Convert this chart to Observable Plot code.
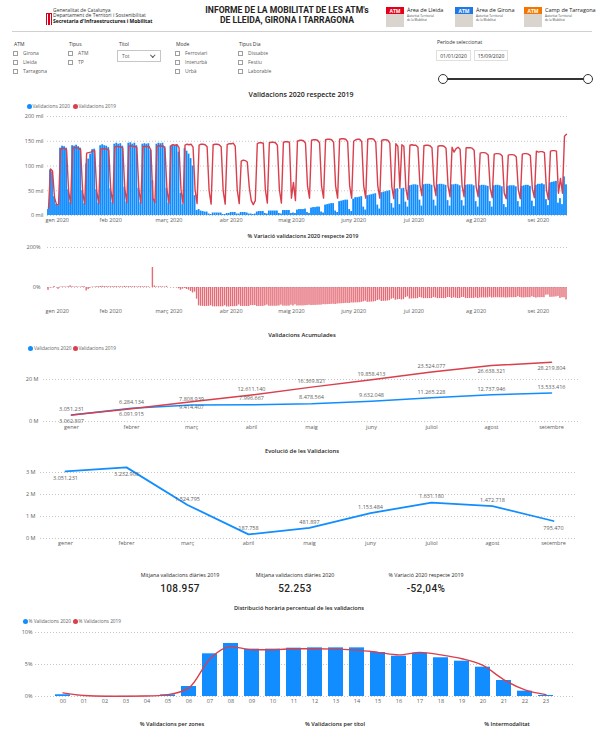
<!DOCTYPE html>
<html><head><meta charset="utf-8">
<script src="https://cdn.jsdelivr.net/npm/d3@7"></script>
<script src="https://cdn.jsdelivr.net/npm/@observablehq/plot@0.6"></script>
<style>
body{margin:0;background:#fff;font-family:'Open Sans','Noto Sans',sans-serif;color:#252423}
#page{position:relative;width:600px;height:733px;overflow:hidden;background:#fff}
.t{position:absolute;white-space:nowrap;line-height:1}
.b{position:absolute;box-sizing:border-box}
svg{position:absolute;overflow:visible}
</style></head><body><div id="page"></div>
<script>
// ---------- DATA ----------
// daily validations (thousands, "mil"), 2020 and matched 2019 days
const v2020_gen=[12,92,88,38,22,20,136,140,139,136,52,26,141,140,142,139,136,50,24,104,114,124,133,134,52,25,141,143,141,140,137];
const v2020_feb=[54,26,144,146,144,145,140,57,27,146,147,144,146,141,55,26,144,145,144,145,131,70,28,144,146,145,146,139,55];
const v2020_mar=[25,140,142,141,142,128,45,22,135,130,124,115,100,40,10,12,9,8,7,7,3,2,5,5,5,5,5,2,2,4,4];
const v2020_abr=[6,6,6,3,3,6,6,6,5,3,3,2,3,7,8,8,8,4,3,9,9,9,9,9,4,3,10,10,10,10];
const v2020_mai=[4,5,4,11,12,12,12,13,6,4,15,16,16,17,17,7,5,21,22,23,24,24,9,6,28,29,30,31,31,12,8];
const v2020_jun=[33,36,36,37,38,17,11,40,41,42,43,44,21,13,46,47,48,49,50,24,15,53,54,22,54,55,27,17,60,61];
const v2020_jul=[62,62,61,31,19,62,63,63,63,61,31,19,62,63,63,62,61,30,19,62,62,63,62,60,30,19,61,62,62,62,60];
const v2020_ago=[28,17,60,61,61,60,59,28,17,60,61,61,60,58,22,16,59,60,60,60,58,28,17,59,60,61,61,59,29,18,61];
const v2020_set=[63,63,64,62,32,20,66,67,68,69,25,34,22,78,62];

const v2019_gen=[14,94,90,36,22,22,133,136,135,133,50,24,136,137,137,136,133,48,23,126,127,128,130,131,50,24,134,135,135,134,132];
const v2019_feb=[52,25,138,140,139,139,136,54,26,140,141,139,140,137,53,25,139,140,139,140,132,35,26,140,141,140,141,136,52];
const v2019_mar=[25,141,143,142,143,137,52,24,142,144,143,144,138,52,24,142,144,144,143,139,50,23,143,144,144,143,139,50,23,143,145];
const v2019_abr=[145,146,140,52,24,110,112,111,108,57,30,22,30,145,147,147,146,52,25,147,148,148,147,142,52,25,148,149,149,148];
const v2019_mai=[35,67,30,150,152,152,151,146,60,35,152,153,153,152,147,60,35,153,154,154,153,148,60,35,154,155,155,154,149,60,35];
const v2019_jun=[150,153,154,154,149,60,35,154,155,155,154,148,60,35,152,153,153,152,146,58,34,145,140,55,143,140,55,32,142,143];
const v2019_jul=[142,142,138,62,40,141,142,142,141,137,62,40,140,141,141,140,136,60,38,138,128,135,138,134,60,38,137,137,137,136,132];
const v2019_ago=[58,38,126,127,127,126,122,55,36,124,125,125,124,120,45,34,122,123,123,122,118,52,34,124,125,125,124,121,54,36,130];
const v2019_set=[128,129,129,127,52,32,130,131,131,130,45,75,45,160,164];

const dateTickLabels=["gen 2020","feb 2020","març 2020","abr 2020","maig 2020","juny 2020","jul 2020","ag 2020","set 2020"];

const months=["gener","febrer","març","abril","maig","juny","juliol","agost","setembre"];
const monthly2020=[3051231,3232903,1524795,187758,481897,1153484,1631180,1472718,795470];
const cum2020=[3051231,6284134,7808939,7996667,8478564,9632048,11265228,12737946,13533416];
const cum2019=[3062807,6091915,9414407,12611140,16369821,19858413,23524077,26638321,28219804];

const kpiLabels=["Mitjana validacions diàries 2019","Mitjana validacions diàries 2020","% Variació 2020 respecte 2019"];
const kpiValues=["108.957","52.253","-52,04%"];

const hours=["00","01","02","03","04","05","06","07","08","09","10","11","12","13","14","15","16","17","18","19","20","21","22","23"];
const hourPct2020=[0.27,0.05,0.02,0.02,0.03,0.25,1.56,6.67,8.28,7.4,7.4,7.55,7.6,7.6,7.6,6.87,6.3,6.77,6.05,5.52,4.58,2.5,0.83,0.16];
const hourPct2019=[0.57,0.15,0.05,0.05,0.08,0.3,1.35,5.9,7.8,7.3,7.3,7.45,7.45,7.4,7.25,6.9,6.5,6.9,6.5,5.9,4.85,2.6,1.04,0.3];

// ---------- HELPERS ----------
const BLUE="#118DFF", RED="#D93F4C", PINK="#E46C77", GRAY="#605E5C", DARK="#252423";
const page=document.getElementById("page");
function T(text,x,y,o={}){
  const el=document.createElement("div");el.className="t";el.textContent=text;
  const a=o.anchor||"start";
  el.style.left=x+"px";el.style.top=y+"px";
  el.style.transform=`translate(${a==="middle"?"-50%":a==="end"?"-100%":"0"},-50%)`;
  el.style.fontSize=(o.size||5.5)+"px";el.style.fontWeight=o.weight||400;
  el.style.color=o.color||GRAY;if(o.family)el.style.fontFamily=o.family;
  if(o.ls)el.style.letterSpacing=o.ls;
  page.appendChild(el);return el;
}
function B(x,y,w,h,css){const el=document.createElement("div");el.className="b";
  Object.assign(el.style,{left:x+"px",top:y+"px",width:w+"px",height:h+"px"},css||{});page.appendChild(el);return el;}
function place(svg,x,y){svg.style.left=x+"px";svg.style.top=y+"px";page.appendChild(svg);}
function legend(x,y,items){let cx=x;items.forEach(([c,l,w])=>{B(cx-2.5,y-2.5,5,5,{background:c,borderRadius:"50%"});T(l,cx+3.5,y,{size:4.8,color:GRAY});cx+=w;});}
const fmt=d3.formatLocale({decimal:",",thousands:".",grouping:[3],currency:["","€"]}).format(",d");
const style={fontFamily:"'Open Sans','Noto Sans',sans-serif",fontSize:"5.5px",color:GRAY,background:"transparent",overflow:"visible"};
const grid={stroke:"#C8C6C4",strokeOpacity:1,strokeDasharray:"1,2"};

// ---------- HEADER ----------
for(let i=0;i<4;i++)B(46+i*1.6,13,0.9,12,{background:"#D6001C"});
B(46,13,6,1,{background:"#D6001C"});
T("Generalitat de Catalunya",53,10,{size:5,color:"#333"});
T("Departament de Territori i Sostenibilitat",53,15,{size:5,color:"#333"});
T("Secretaria d'Infraestructures i Mobilitat",53,20.5,{size:5,weight:700,color:"#111"});
T("INFORME DE LA MOBILITAT DE LES ATM's",287,10,{anchor:"middle",size:8.6,weight:700,color:DARK,family:"'Liberation Sans Narrow','Roboto',sans-serif"});
T("DE LLEIDA, GIRONA I TARRAGONA",287,19.5,{anchor:"middle",size:8.6,weight:700,color:DARK,family:"'Liberation Sans Narrow','Roboto',sans-serif"});
[[386,"#E2001A","Àrea de Lleida"],[455,"#1E78E6","Àrea de Girona"],[524,"#F07800","Camp de Tarragona"]].forEach(([x,c,l])=>{
  B(x,7,18,7,{background:c});T("ATM",x+9,10.5,{anchor:"middle",size:5,weight:700,color:"#fff"});
  B(x,14,18,13,{background:"#D9D4CE"});
  T(l,x+21,10.5,{size:5.5,color:"#222"});
  T("Autoritat Territorial",x+21,16,{size:3,color:"#444"});
  T("de la Mobilitat",x+21,19.5,{size:3,color:"#444"});
});
B(12,31,580,1,{background:"#D0D0D0"});

// Filters
function checks(x,title,items){T(title,x+1,43.5,{size:5,color:"#333"});
  items.forEach((it,i)=>{B(x,50.5+i*9,5,5,{border:"0.6px solid #A19F9D",background:"#fff"});T(it,x+10,53+i*9,{size:5,color:GRAY});});}
checks(13,"ATM",["Girona","Lleida","Tarragona"]);
checks(68,"Tipus",["ATM","TP"]);
checks(175,"Mode",["Ferroviari","Interurbà","Urbà"]);
checks(238,"Tipus Dia",["Dissabte","Festiu","Laborable"]);
T("Títol",119,43.5,{size:5,color:"#333"});
B(117,50,44,12,{border:"0.6px solid #C8C6C4"});
T("Tot",122,56,{size:5,color:GRAY});
B(151,53,3.5,3.5,{borderRight:"0.7px solid #555",borderBottom:"0.7px solid #555",transform:"rotate(45deg)"});
T("Període seleccionat",437,41.7,{size:5,color:"#333"});
B(436,50,35,11,{border:"0.6px solid #E1DFDD"});T("01/01/2020",453.5,55.5,{anchor:"middle",size:5,color:"#333"});
B(474,50,34,11,{border:"0.6px solid #E1DFDD"});T("15/09/2020",491,55.5,{anchor:"middle",size:5,color:"#333"});
B(443,78,145,2,{background:"#333"});
B(438,74,10,10,{border:"1px solid #333",background:"#fff",borderRadius:"50%"});
B(583,74,10,10,{border:"1px solid #333",background:"#fff",borderRadius:"50%"});

// ---------- CHART 1: daily ----------
const dayMs=864e5;
const days=d3.utcDay.range(new Date(Date.UTC(2020,0,1)),new Date(Date.UTC(2020,8,16)));
const val2020=[].concat(v2020_gen,v2020_feb,v2020_mar,v2020_abr,v2020_mai,v2020_jun,v2020_jul,v2020_ago,v2020_set);
const val2019=[].concat(v2019_gen,v2019_feb,v2019_mar,v2019_abr,v2019_mai,v2019_jun,v2019_jul,v2019_ago,v2019_set);
const rows=days.map((d,i)=>({date:d,x1:new Date(+d-dayMs/2),x2:new Date(+d+dayMs/2),v20:val2020[i],v19:val2019[i],pct:(val2020[i]/val2019[i]-1)*100}));
const monthStarts=d3.utcMonth.range(new Date(Date.UTC(2020,0,1)),new Date(Date.UTC(2020,8,2)));
const tickLab=new Map(monthStarts.map((d,i)=>[+d,dateTickLabels[i]]));
const xDom=[new Date(Date.UTC(2019,11,31,12)),new Date(Date.UTC(2020,8,15,12))];
function dateAxes(pad){return [
  Plot.axisX(monthStarts.slice(1),{tickSize:0,tickPadding:pad,label:null,tickFormat:d=>tickLab.get(+d)}),
  Plot.axisX(monthStarts.slice(0,1),{tickSize:0,tickPadding:pad,label:null,textAnchor:"start",dx:-3,tickFormat:d=>tickLab.get(+d)})
];}

T("Validacions 2020 respecte 2019",301,94,{anchor:"middle",size:7,weight:600,color:DARK});
legend(29,106,[[BLUE,"Validacions 2020",46],[RED,"Validacions 2019",0]]);
place(Plot.plot({width:600,height:118,marginLeft:47,marginRight:33,marginTop:6,marginBottom:13,style,
  x:{type:"utc",domain:xDom,label:null},y:{domain:[0,200],label:null},
  marks:[
    Plot.gridY([0,50,100,150,200],grid),
    Plot.axisY([0,50,100,150,200],{tickSize:0,tickPadding:4,label:null,tickFormat:d=>d+" mil"}),
    ...dateAxes(3),
    Plot.rectY(rows,{x1:"x1",x2:"x2",y:"v20",fill:BLUE,insetLeft:0.1,insetRight:0.1}),
    Plot.line(rows,{x:"date",y:"v19",stroke:RED,strokeWidth:1.4})
  ]}),0,110);

// ---------- CHART 2: % variation ----------
T("% Variació validacions 2020 respecte 2019",303,237,{anchor:"middle",size:5.5,weight:600,color:DARK});
place(Plot.plot({width:600,height:79,marginLeft:47,marginRight:33,marginTop:7,marginBottom:12,style,
  x:{type:"utc",domain:xDom,label:null},y:{domain:[-100,200],clamp:true,label:null},
  marks:[
    Plot.gridY([0,200],grid),
    Plot.axisY([0,200],{tickSize:0,tickPadding:7,label:null,tickFormat:d=>d+"%"}),
    ...dateAxes(2),
    Plot.rectY(rows,{x1:"x1",x2:"x2",y:"pct",fill:PINK,insetLeft:0.3,insetRight:0.3})
  ]}),0,240);

// ---------- CHART 3: cumulative ----------
const below3=new Set(["gener","febrer","març","agost","setembre"]);
const acc=months.map((m,i)=>({m,a20:cum2020[i]/1e6,a19:cum2019[i]/1e6,r20:cum2020[i],r19:cum2019[i]}));
T("Validacions Acumulades",302,336,{anchor:"middle",size:5.8,weight:600,color:DARK});
legend(30.5,348,[[BLUE,"Validacions 2020",44.5],[RED,"Validacions 2019",0]]);
place(Plot.plot({width:600,height:84,marginLeft:43,marginRight:22,marginTop:6,marginBottom:15,style,
  x:{type:"point",domain:months,padding:0.4,label:null},y:{domain:[0,30],label:null},
  marks:[
    Plot.gridY([0,20],grid),
    Plot.axisY([0,20],{tickSize:0,tickPadding:5,label:null,tickFormat:d=>d+" M"}),
    Plot.axisX({tickSize:0,tickPadding:4,label:null}),
    Plot.line(acc,{x:"m",y:"a20",stroke:BLUE,strokeWidth:1.5}),
    Plot.line(acc,{x:"m",y:"a19",stroke:RED,strokeWidth:1.5}),
    Plot.text(acc,{x:"m",y:"a20",text:d=>fmt(d.r20),dy:-6,fill:GRAY}),
    Plot.text(acc.filter(d=>below3.has(d.m)),{x:"m",y:"a19",text:d=>fmt(d.r19),dy:6,fill:GRAY}),
    Plot.text(acc.filter(d=>!below3.has(d.m)),{x:"m",y:"a19",text:d=>fmt(d.r19),dy:-6,fill:GRAY})
  ]}),0,352);

// ---------- CHART 4: monthly ----------
const below4=new Set(["gener","febrer","setembre"]);
const mon=months.map((m,i)=>({m,v:monthly2020[i]/1e6,r:monthly2020[i]}));
T("Evolució de les Validacions",302,452,{anchor:"middle",size:5.8,weight:600,color:DARK});
place(Plot.plot({width:600,height:90,marginLeft:40,marginRight:23,marginTop:3.4,marginBottom:14,style,
  x:{type:"point",domain:months,padding:0.393,label:null},y:{domain:[0,3.3],label:null},
  marks:[
    Plot.gridY([0,1,2,3],grid),
    Plot.axisY([0,1,2,3],{tickSize:0,tickPadding:5,label:null,tickFormat:d=>d+" M"}),
    Plot.axisX({tickSize:0,tickPadding:3,label:null}),
    Plot.line(mon,{x:"m",y:"v",stroke:BLUE,strokeWidth:1.8}),
    Plot.text(mon.filter(d=>below4.has(d.m)),{x:"m",y:"v",text:d=>fmt(d.r),dy:7,fill:GRAY}),
    Plot.text(mon.filter(d=>!below4.has(d.m)),{x:"m",y:"v",text:d=>fmt(d.r),dy:-6,fill:GRAY})
  ]}),0,462);

// ---------- KPIs ----------
[180,295,426].forEach((x,i)=>{
  T(kpiLabels[i],x,576,{anchor:"middle",size:5.3,color:DARK});
  T(kpiValues[i],x,588.5,{anchor:"middle",size:10,weight:500,color:DARK,family:"'Roboto','DejaVu Sans',sans-serif",ls:"0.4px"});
});

// ---------- CHART 5: hourly ----------
const hr=hours.map((h,i)=>({h,p20:hourPct2020[i],p19:hourPct2019[i]}));
T("Distribució horària percentual de les validacions",299,609,{anchor:"middle",size:5.6,weight:600,color:DARK});
legend(25,621,[[BLUE,"% Validacions 2020",50],[RED,"% Validacions 2019",0]]);
place(Plot.plot({width:600,height:81,marginLeft:35,marginRight:27,marginTop:4,marginBottom:13,style,
  x:{type:"band",domain:hours,paddingInner:0.27,paddingOuter:0.485,label:null},y:{domain:[0,10],label:null},
  marks:[
    Plot.gridY([0,5,10],grid),
    Plot.axisY([0,5,10],{tickSize:0,tickPadding:3,label:null,tickFormat:d=>d+"%"}),
    Plot.axisX({tickSize:0,tickPadding:3,label:null}),
    Plot.barY(hr,{x:"h",y:"p20",fill:BLUE}),
    Plot.line(hr,{x:"h",y:"p19",stroke:RED,strokeWidth:1.4,curve:"monotone-x"})
  ]}),0,628);

// ---------- bottom titles ----------
T("% Validacions per zones",172,725,{anchor:"middle",size:5.6,weight:600,color:DARK});
T("% Validacions per títol",335,725,{anchor:"middle",size:5.6,weight:600,color:DARK});
T("% Intermodalitat",507,725,{anchor:"middle",size:5.6,weight:600,color:DARK});
</script></body></html>
